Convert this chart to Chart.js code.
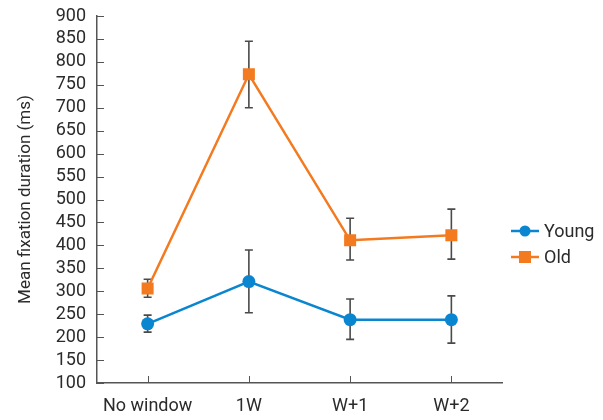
<!DOCTYPE html>
<html><head><meta charset="utf-8">
<script src="https://cdn.jsdelivr.net/npm/chart.js@4/dist/chart.umd.min.js"></script>
<style>html,body{margin:0;padding:0;background:#fff}#wrap{width:603px;height:420px}</style>
</head><body><div id="wrap"><canvas id="c" width="603" height="420"></canvas></div>
<script>
const categories = ['No window', '1W', 'W+1', 'W+2'];
const youngMean = [229, 321, 238, 238];
const youngLow  = [211, 253, 195, 187];
const youngHigh = [248, 390, 283, 290];
const oldMean = [306, 773, 411, 422];
const oldLow  = [287, 700, 368, 370];
const oldHigh = [326, 845, 459, 479];
const yMin = 100, yMax = 900, yStep = 50;
const seriesNames = ['Young', 'Old'];

const BLUE = '#0a86d0', ORANGE = '#f47a20', AXIS = '#555555', TEXT = '#2b2b2b';
const FONT = 'Roboto';

const errorBars = {
  id: 'errorBars',
  beforeDatasetsDraw(chart) {
    const ctx = chart.ctx, x = chart.scales.x, y = chart.scales.y;
    ctx.save();
    ctx.strokeStyle = '#4a4a4a';
    ctx.lineWidth = 1.6;
    chart.data.datasets.forEach(ds => {
      ds.errLow.forEach((lo, i) => {
        const px = x.getPixelForValue(i);
        const yl = y.getPixelForValue(lo), yh = y.getPixelForValue(ds.errHigh[i]);
        ctx.beginPath();
        ctx.moveTo(px, yl); ctx.lineTo(px, yh);
        ctx.moveTo(px - 4, yl); ctx.lineTo(px + 4, yl);
        ctx.moveTo(px - 4, yh); ctx.lineTo(px + 4, yh);
        ctx.stroke();
      });
    });
    ctx.restore();
  }
};

const inwardTicks = {
  id: 'inwardTicks',
  afterDraw(chart) {
    const ctx = chart.ctx, x = chart.scales.x, y = chart.scales.y, a = chart.chartArea;
    ctx.save();
    ctx.strokeStyle = AXIS; ctx.lineWidth = 1;
    ctx.beginPath();
    y.ticks.forEach((t, i) => {
      const py = Math.round(y.getPixelForTick(i)) + 0.5;
      ctx.moveTo(a.left, py); ctx.lineTo(a.left + 7, py);
    });
    x.ticks.forEach((t, i) => {
      const px = Math.round(x.getPixelForTick(i)) + 0.5;
      ctx.moveTo(px, a.bottom); ctx.lineTo(px, a.bottom - 7);
    });
    ctx.stroke();
    ctx.restore();
  }
};

const sideLegend = {
  id: 'sideLegend',
  afterDraw(chart) {
    const ctx = chart.ctx, a = chart.chartArea;
    const x0 = a.right + 9, baseY = 231;
    ctx.save();
    chart.data.datasets.forEach((ds, i) => {
      const yy = baseY + i * 26;
      ctx.strokeStyle = ds.borderColor; ctx.lineWidth = 2.5;
      ctx.beginPath(); ctx.moveTo(x0, yy); ctx.lineTo(x0 + 28, yy); ctx.stroke();
      ctx.fillStyle = ds.borderColor;
      if (ds.pointStyle === 'rect') {
        ctx.fillRect(x0 + 14 - 6, yy - 6, 12, 12);
      } else {
        ctx.beginPath(); ctx.arc(x0 + 14, yy, 5.5, 0, Math.PI * 2); ctx.fill();
      }
      ctx.fillStyle = TEXT;
      ctx.font = '18px ' + FONT;
      ctx.textBaseline = 'middle';
      ctx.fillText(ds.label, x0 + 33, yy + 1);
    });
    ctx.restore();
  }
};

new Chart(document.getElementById('c'), {
  type: 'line',
  data: {
    labels: categories,
    datasets: [
      { label: seriesNames[0], data: youngMean, errLow: youngLow, errHigh: youngHigh,
        borderColor: BLUE, backgroundColor: BLUE, borderWidth: 2.5,
        pointStyle: 'circle', pointRadius: 6.5, pointHoverRadius: 6.5, pointBorderWidth: 0, tension: 0 },
      { label: seriesNames[1], data: oldMean, errLow: oldLow, errHigh: oldHigh,
        borderColor: ORANGE, backgroundColor: ORANGE, borderWidth: 2.5,
        pointStyle: 'rect', pointRadius: 8.5, pointHoverRadius: 8.5, pointBorderWidth: 0, tension: 0 }
    ]
  },
  options: {
    responsive: false,
    animation: false,
    devicePixelRatio: 1,
    layout: { padding: { left: 0, right: 101, top: 16, bottom: 0 } },
    plugins: { legend: { display: false }, tooltip: { enabled: false } },
    scales: {
      x: {
        offset: true,
        grid: { display: false, drawTicks: false },
        border: { display: true, color: AXIS, width: 1.5 },
        ticks: { color: TEXT, font: { family: FONT, size: 18 }, padding: 13, maxRotation: 0, autoSkip: false },
        afterFit(s) { s.height = 37; s.paddingLeft = 0; s.paddingRight = 0; }
      },
      y: {
        min: yMin, max: yMax,
        grid: { display: false, drawTicks: false },
        border: { display: true, color: AXIS, width: 1.5 },
        ticks: { stepSize: yStep, color: TEXT, font: { family: FONT, size: 18 }, padding: 11, autoSkip: false },
        title: { display: true, text: 'Mean fixation duration (ms)', color: TEXT,
                 font: { family: FONT, size: 17 }, padding: { top: 16, bottom: 0 } },
        afterFit(s) { s.width = 97; s.paddingTop = 0; s.paddingBottom = 0; }
      }
    }
  },
  plugins: [errorBars, inwardTicks, sideLegend]
});
</script></body></html>
